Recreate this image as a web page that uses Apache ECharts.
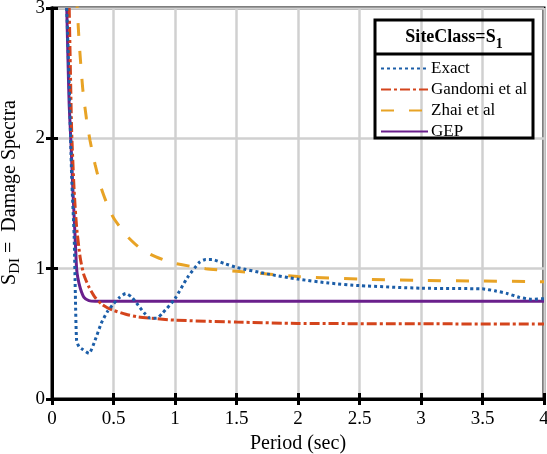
<!DOCTYPE html>
<html>
<head>
<meta charset="utf-8">
<script src="https://cdn.jsdelivr.net/npm/echarts@6/dist/echarts.min.js"></script>
<style>html,body{margin:0;padding:0;background:#fff}#c{width:547px;height:454px}</style>
</head>
<body>
<div id="c"></div>
<script>
var xTicks = [0, 0.5, 1, 1.5, 2, 2.5, 3, 3.5, 4];
var yTicks = [0, 1, 2, 3];

var exactT = [0.12,0.14,0.16,0.18,0.19,0.20,0.22,0.25,0.30,0.35,0.40,0.45,0.50,0.55,0.60,0.65,0.70,0.75,0.80,0.85,0.90,1.00,1.10,1.20,1.25,1.30,1.40,1.50,1.75,2.00,2.25,2.50,3.00,3.50,3.60,3.70,3.80,3.90,4.00];
var exactS = [3.0,2.4,1.7,1.25,0.8,0.45,0.40,0.38,0.35,0.45,0.58,0.67,0.73,0.78,0.81,0.78,0.72,0.66,0.62,0.62,0.66,0.77,0.93,1.05,1.07,1.07,1.04,1.01,0.96,0.92,0.89,0.87,0.85,0.845,0.83,0.81,0.78,0.765,0.77];

var gandomiT = [0.14,0.15,0.16,0.18,0.20,0.23,0.26,0.30,0.35,0.40,0.45,0.50,0.60,0.70,0.80,1.00,1.50,2.00,3.00,4.00];
var gandomiS = [3.0,2.5,2.05,1.6,1.32,1.08,0.95,0.86,0.78,0.73,0.70,0.68,0.65,0.63,0.62,0.605,0.59,0.58,0.577,0.575];

var zhaiT = [0.20,0.22,0.25,0.28,0.31,0.35,0.40,0.45,0.50,0.60,0.70,0.80,0.90,1.00,1.25,1.50,2.00,2.50,3.00,3.50,4.00];
var zhaiS = [3.1,2.75,2.38,2.15,1.98,1.8,1.62,1.49,1.39,1.26,1.17,1.11,1.07,1.04,1.0,0.98,0.94,0.92,0.91,0.905,0.90];

var gepT = [0.12,0.13,0.14,0.155,0.17,0.19,0.20,0.21,0.23,0.26,0.30,0.35,4.00];
var gepS = [3.0,2.6,2.25,1.95,1.6,1.2,1.0,0.93,0.85,0.78,0.755,0.75,0.75];

var names = ['Exact', 'Gandomi et al', 'Zhai et al', 'GEP'];

function pairs(t, s) { return t.map(function (v, i) { return [v, s[i]]; }); }

var FONT = 'Liberation Serif';
var chart = echarts.init(document.getElementById('c'));
chart.setOption({
  animation: false,
  backgroundColor: '#fff',
  grid: { left: 52, right: 3, top: 8, bottom: 55, containLabel: false, outerBoundsMode: 'none',
    show: true, borderColor: '#000', borderWidth: 3, backgroundColor: 'transparent' },
  xAxis: [{
    type: 'value', min: 0, max: 4, interval: 0.5,
    name: 'Period (sec)', nameLocation: 'middle', nameGap: 27,
    nameTextStyle: { fontFamily: FONT, fontSize: 20, color: '#000' },
    axisLine: { show: true, lineStyle: { color: '#000', width: 3 } },
    axisTick: { show: true, inside: true, length: 6, lineStyle: { color: '#000', width: 3 } },
    axisLabel: { fontFamily: FONT, fontSize: 19, color: '#000', margin: 11 },
    splitLine: { show: true, lineStyle: { color: '#d0d0d0', width: 2.5 } }
  }, {
    type: 'value', min: 0, max: 4, interval: 0.5, position: 'top',
    axisLine: { show: true, lineStyle: { color: '#000', width: 3 } },
    axisTick: { show: true, inside: true, length: 6, lineStyle: { color: '#000', width: 3 } },
    axisLabel: { show: false }, splitLine: { show: false }
  }],
  yAxis: [{
    type: 'value', min: 0, max: 3, interval: 1,
    name: '{p| }{m|S}{s|DI}{m| =  Damage Spectra}', nameLocation: 'middle', nameGap: 29, nameMoveOverlap: false,
    nameTextStyle: {
      color: '#000', fontFamily: FONT,
      rich: {
        p: { fontSize: 10, width: 22, lineHeight: 26 },
        m: { fontFamily: FONT, fontSize: 20, color: '#000', lineHeight: 26, verticalAlign: 'middle' },
        s: { fontFamily: FONT, fontSize: 15, color: '#000', lineHeight: 26, verticalAlign: 'bottom' }
      }
    },
    axisLine: { show: true, lineStyle: { color: '#000', width: 3 } },
    axisTick: { show: true, inside: true, length: 6, lineStyle: { color: '#000', width: 3 } },
    axisLabel: { fontFamily: FONT, fontSize: 19, color: '#000', margin: 7 },
    splitLine: { show: true, lineStyle: { color: '#d0d0d0', width: 2.5 } }
  }, {
    type: 'value', min: 0, max: 3, interval: 1, position: 'right',
    axisLine: { show: true, lineStyle: { color: '#000', width: 3 } },
    axisTick: { show: true, inside: true, length: 6, lineStyle: { color: '#000', width: 3 } },
    axisLabel: { show: false }, splitLine: { show: false }
  }],
  legend: {
    orient: 'vertical', left: 380, top: 60, padding: 0, itemWidth: 47, itemHeight: 14, itemGap: 4,
    data: names,
    itemStyle: { opacity: 0 },
    textStyle: { fontFamily: FONT, fontSize: 17, lineHeight: 16, color: '#000', padding: [0, 0, 0, -2] }
  },
  graphic: [
    { type: 'rect', shape: { x: 375, y: 20, width: 158, height: 118 }, style: { fill: 'rgba(0,0,0,0)', stroke: '#000', lineWidth: 3 }, z: 100 },
    { type: 'line', shape: { x1: 375, y1: 54, x2: 533, y2: 54 }, style: { stroke: '#000', lineWidth: 3 }, z: 100 },
    { type: 'text', x: 454, y: 37, z: 100, style: {
        text: '{b|SiteClass=S}{c|1}', align: 'center', verticalAlign: 'middle',
        rich: {
          b: { fontFamily: FONT, fontSize: 18, fontWeight: 'bold', fill: '#000', lineHeight: 28, verticalAlign: 'middle' },
          c: { fontFamily: FONT, fontSize: 14, fontWeight: 'bold', fill: '#000', lineHeight: 28, verticalAlign: 'bottom' }
        } } }
  ],
  series: [
    { name: names[0], type: 'line', symbol: 'none', smooth: 0.2, clip: true, data: pairs(exactT, exactS),
      lineStyle: { color: '#1c5ea8', width: 3, type: [3, 3] }, itemStyle: { color: '#1c5ea8' }, z: 4 },
    { name: names[1], type: 'line', symbol: 'none', smooth: 0.2, clip: true, data: pairs(gandomiT, gandomiS),
      lineStyle: { color: '#d4441c', width: 3, type: [10, 3, 3, 3] }, itemStyle: { color: '#d4441c' }, z: 3 },
    { name: names[2], type: 'line', symbol: 'none', smooth: 0.2, clip: true, data: pairs(zhaiT, zhaiS),
      lineStyle: { color: '#e8a325', width: 3, type: [13, 15] }, itemStyle: { color: '#e8a325' }, z: 2 },
    { name: names[3], type: 'line', symbol: 'none', smooth: 0.2, clip: true, data: pairs(gepT, gepS),
      lineStyle: { color: '#6a1f8c', width: 3 }, itemStyle: { color: '#6a1f8c' }, z: 1 }
  ]
});
</script>
</body>
</html>
